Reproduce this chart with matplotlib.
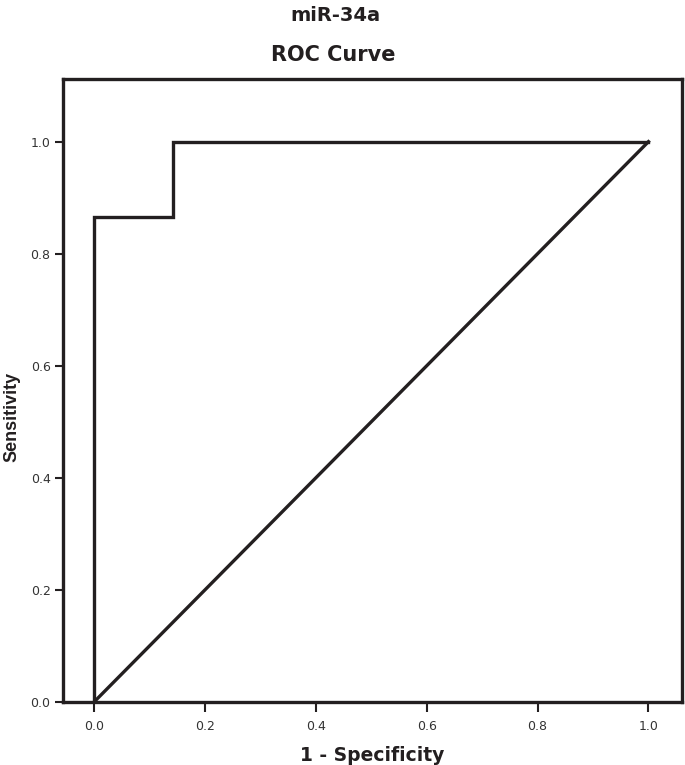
import matplotlib
matplotlib.use("Agg")
import matplotlib.pyplot as plt

plt.rcParams['font.family'] = ['Liberation Sans', 'DejaVu Sans']

# ROC curve points (1 - specificity, sensitivity)
fpr = [0.0, 0.0, 0.143, 0.143, 1.0]
tpr = [0.0, 0.866, 0.866, 1.0, 1.0]
# reference line
ref_x = [0.0, 1.0]
ref_y = [0.0, 1.0]
ticks = [0.0, 0.2, 0.4, 0.6, 0.8, 1.0]
tick_labels = ["0.0", "0.2", "0.4", "0.6", "0.8", "1.0"]

fig = plt.figure(figsize=(6.85, 7.65), dpi=100)
ax = fig.add_axes([0.092, 0.0824, 0.904, 0.8144])

ax.plot(fpr, tpr, color="#231f20", lw=2.4, solid_joinstyle="miter")
ax.plot(ref_x, ref_y, color="#231f20", lw=2.4)

ax.set_xlim(-0.056, 1.061)
ax.set_ylim(0.0, 1.112)
ax.set_xticks(ticks)
ax.set_xticklabels(tick_labels)
ax.set_yticks(ticks)
ax.set_yticklabels(tick_labels)
ax.tick_params(direction="out", width=1.5, labelsize=9, colors="#231f20", labelcolor="#333333")
ax.tick_params(axis="x", length=7, pad=6)
ax.tick_params(axis="y", length=6, pad=3)
for lab in ax.get_xticklabels() + ax.get_yticklabels():
    lab.set_family("DejaVu Sans")

for s in ax.spines.values():
    s.set_linewidth(2.4)
    s.set_color("#231f20")

# titles use the wider DejaVu face to match the stretched look
fig.text(0.489, 0.980, "miR-34a", ha="center", va="center", fontsize=14,
         fontweight="bold", color="#231f20", family="DejaVu Sans")
fig.text(0.487, 0.928, "ROC Curve", ha="center", va="center", fontsize=15,
         fontweight="bold", color="#231f20", family="DejaVu Sans")
fig.text(0.543, 0.013, "1 - Specificity", ha="center", va="center", fontsize=13.5,
         fontweight="bold", color="#231f20", family="DejaVu Sans")
fig.text(0.018, 0.455, "Sensitivity", ha="center", va="center", rotation=90,
         fontsize=13, fontweight="bold", color="#231f20",
         family=["Liberation Sans Narrow", "Liberation Sans"])

fig.savefig("out.png", dpi=100)
